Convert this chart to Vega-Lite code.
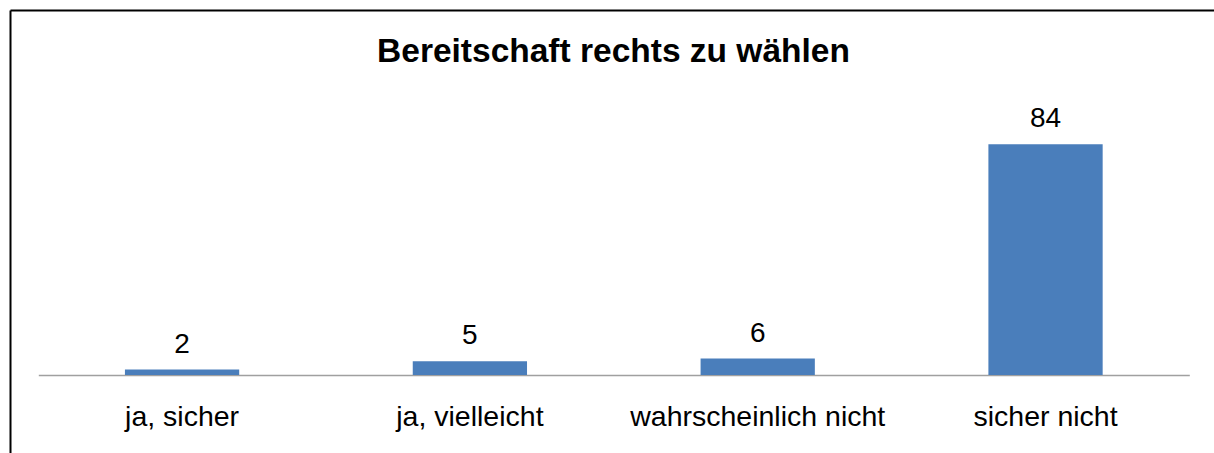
{
  "$schema": "https://vega.github.io/schema/vega-lite/v6.json",
  "width": 1204,
  "height": 443,
  "autosize": "none",
  "padding": {"left": 10, "top": 10, "right": 0, "bottom": 0},
  "background": "white",
  "config": {"view": {"stroke": null}, "font": "Liberation Sans"},
  "data": {
    "values": [
      {"k": "ja, sicher", "v": 2},
      {"k": "ja, vielleicht", "v": 5},
      {"k": "wahrscheinlich nicht", "v": 6},
      {"k": "sicher nicht", "v": 84}
    ]
  },
  "layer": [
    {
      "layer": [
        {
          "mark": {"type": "bar", "color": "#4a7ebb"},
          "encoding": {
            "x": {
              "field": "k",
              "type": "nominal",
              "sort": null,
              "scale": {"range": [28.3, 1179.3], "paddingInner": 0.603, "paddingOuter": 0.301},
              "axis": {
                "orient": "bottom",
                "offset": -78,
                "title": null,
                "ticks": false,
                "tickSize": 0,
                "domainColor": "#a0a0a0",
                "domainWidth": 1.5,
                "labelFont": "Liberation Sans",
                "labelFontSize": 28.5,
                "labelColor": "black",
                "labelAngle": 0,
                "labelBaseline": "alphabetic",
                "labelPadding": 50,
                "labelLimit": 0,
                "grid": false
              }
            },
            "y": {
              "field": "v",
              "type": "quantitative",
              "scale": {"domain": [0, 100], "range": [365, 90.4], "nice": false},
              "axis": null
            }
          }
        },
        {
          "mark": {"type": "text", "font": "Liberation Sans", "fontSize": 28, "color": "black", "baseline": "alphabetic", "dy": -17},
          "encoding": {
            "x": {"field": "k", "type": "nominal", "sort": null},
            "y": {"field": "v", "type": "quantitative"},
            "text": {"field": "v", "type": "quantitative"}
          }
        }
      ]
    },
    {
      "mark": {"type": "point", "opacity": 0},
      "encoding": {
        "x": {
          "field": "v",
          "type": "quantitative",
          "scale": {"domain": [0, 1], "nice": false},
          "axis": {
            "orient": "top",
            "domainColor": "black",
            "domainWidth": 2,
            "ticks": false,
            "labels": false,
            "grid": false,
            "title": "Bereitschaft rechts zu wählen",
            "titleFont": "Liberation Sans",
            "titleFontSize": 33.5,
            "titleFontWeight": "bold",
            "titleColor": "black",
            "titleBaseline": "alphabetic",
            "titleAnchor": "middle",
            "titleX": 603,
            "titleY": 51
          }
        },
        "y": {
          "field": "v",
          "type": "quantitative",
          "scale": {"domain": [0, 1], "nice": false},
          "axis": {"orient": "left", "domainColor": "black", "domainWidth": 2, "ticks": false, "labels": false, "grid": false, "title": null}
        }
      }
    }
  ],
  "resolve": {"scale": {"x": "independent", "y": "independent"}, "axis": {"x": "independent", "y": "independent"}}
}
